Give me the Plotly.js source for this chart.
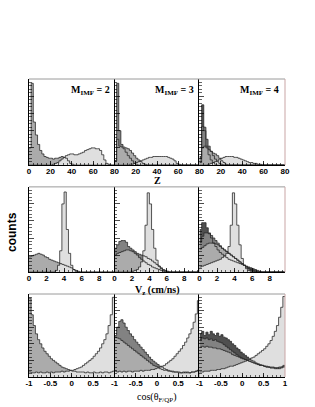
<!DOCTYPE html>
<html><head><meta charset="utf-8">
<script src="https://cdn.plot.ly/plotly-3.0.1.min.js"></script>
<style>html,body{margin:0;padding:0;background:#fff}#chart{width:315px;height:407px}</style>
</head><body><div id="chart"></div>
<script>
// ---------- binning (bin start, width, count) ----------
const zBins = {start: 0, width: 2, n: 40};
const vBins = {start: 0, width: 0.25, n: 39};
const cBins = {start: -1, width: 0.05, n: 40};

// ---------- Row 1 : Z distributions ----------
const zM2_frag = [20,95,50,35,24,17,13,10,9,8, 8,7,8,8,9,10,9,8,5,2, 1,0,0,0,0,0,0,0,0,0, 0,0,0,0,0,0,0,0,0,0];
const zM2_qp   = [0,0,0,0,0,0,0,0,0,0, 0,1,2,3,5,7,9,11,12,13, 13,12,12,13,14,15,17,18,19,20, 20,19,19,17,12,6,2,1,0,0];

const zM3_f1 = [5,95,40,24,19,15,11,8,5,2, 1,0,0,0,0,0,0,0,0,0, 0,0,0,0,0,0,0,0,0,0, 0,0,0,0,0,0,0,0,0,0];
const zM3_f2 = [5,30,22,21,21,20,19,17,14,11, 8,6,4,2,1,0,0,0,0,0, 0,0,0,0,0,0,0,0,0,0, 0,0,0,0,0,0,0,0,0,0];
const zM3_qp = [0,0,0,0,0,0,0,1,1,2, 3,4,5,6,7,8,9,9,10,10, 10,10,10,10,10,9,8,7,5,2, 1,0,0,0,0,0,0,0,0,0];

const zM4_f1 = [10,70,40,22,12,6,3,1,0,0, 0,0,0,0,0,0,0,0,0,0, 0,0,0,0,0,0,0,0,0,0, 0,0,0,0,0,0,0,0,0,0];
const zM4_f2 = [8,45,44,30,22,16,11,7,4,2, 1,0,0,0,0,0,0,0,0,0, 0,0,0,0,0,0,0,0,0,0, 0,0,0,0,0,0,0,0,0,0];
const zM4_f3 = [3,20,22,20,18,16,14,13,11,8, 5,3,1,0,0,0,0,0,0,0, 0,0,0,0,0,0,0,0,0,0, 0,0,0,0,0,0,0,0,0,0];
const zM4_qp = [0,0,0,0,1,2,3,4,5,7, 8,9,10,10,10,10,9,9,8,7, 6,5,4,3,3,2,2,1,1,0, 0,0,0,0,0,0,0,0,0,0];

// ---------- Row 2 : Vz distributions ----------
const vM2_frag = [18,19,20,21,22,21,20,18,17,15, 14,13,12,11,10,9,8,7,6,5, 3,2,1,0,0,0,0,0,0,0, 0,0,0,0,0,0,0,0,0];
const vM2_qp   = [0,0,0,0,0,0,0,0,0,0, 0,0,2,8,25,80,94,50,22,8, 3,1,0,0,0,0,0,0,0,0, 0,0,0,0,0,0,0,0,0];

const vM3_f1 = [28,32,36,37,37,35,30,28,26,24, 22,21,20,19,18,16,15,13,11,9, 7,5,3,2,1,0,0,0,0,0, 0,0,0,0,0,0,0,0,0];
const vM3_f2 = [20,22,23,24,25,26,26,25,24,22, 20,17,15,13,11,9,8,6,5,4, 3,2,1,0,0,0,0,0,0,0, 0,0,0,0,0,0,0,0,0];
const vM3_qp = [0,0,0,0,0,0,0,0,1,2, 3,6,12,25,55,93,80,50,28,14, 7,4,2,1,0,0,0,0,0,0, 0,0,0,0,0,0,0,0,0];

const vM4_f1 = [50,58,58,52,46,40,34,30,26,23, 21,19,17,15,14,13,12,11,10,9, 8,7,6,5,4,3,2,1,0,0, 0,0,0,0,0,0,0,0,0];
const vM4_f2 = [35,42,46,46,45,43,40,37,34,31, 28,26,24,22,20,18,16,14,12,10, 8,6,4,3,2,1,0,0,0,0, 0,0,0,0,0,0,0,0,0];
const vM4_f3 = [27,29,31,33,34,34,34,33,32,30, 28,26,24,22,20,18,16,14,12,10, 8,6,4,2,1,0,0,0,0,0, 0,0,0,0,0,0,0,0,0];
const vM4_qp = [6,7,8,9,10,11,12,13,14,15, 17,19,22,30,55,93,80,55,32,16, 8,4,2,1,0,0,0,0,0,0, 0,0,0,0,0,0,0,0,0];

// ---------- Row 3 : cos(theta_F/QP) distributions ----------
const cM2_frag = [95,75,62,52,45,40,35,31,28,25, 22,20,18,16,14,12,11,10,9,8, 7,7,6,6,6,6,5,6,5,5, 6,5,5,6,5,6,6,5,6,7];
const cM2_qp   = [6,5,5,6,5,6,5,5,6,5, 6,5,6,6,6,7,6,7,7,8, 8,9,10,11,12,14,16,18,20,22, 25,28,31,35,40,45,52,62,75,96];

const cM3_f1 = [50,60,67,69,65,60,56,52,49,45, 42,39,36,33,30,27,24,21,19,17, 15,13,12,10,9,8,7,7,6,6, 6,5,6,5,6,5,6,6,7,8];
const cM3_f2 = [48,47,46,44,42,40,38,36,34,32, 30,28,26,24,22,20,18,16,14,13, 12,10,9,8,8,7,7,6,6,6, 5,5,5,6,5,5,6,6,7,8];
const cM3_qp = [7,6,7,6,7,6,7,7,6,7, 7,7,8,7,8,8,8,9,9,10, 11,12,13,14,16,18,20,22,25,28, 31,34,38,42,47,52,58,66,76,92];

const cM4_f1 = [52,55,50,54,51,55,52,50,53,49, 51,48,47,45,43,40,38,35,33,30, 28,26,24,22,20,19,17,16,15,14, 13,12,12,11,11,10,11,10,11,12];
const cM4_f2 = [45,47,46,47,45,46,44,45,43,42, 41,39,37,35,33,31,29,27,25,23, 22,21,20,19,18,17,16,15,14,14, 13,12,12,11,11,11,10,11,12,13];
const cM4_f3 = [36,37,36,37,36,36,35,35,34,34, 33,32,31,30,29,27,26,25,24,23, 22,21,20,19,18,17,16,15,14,14, 13,13,12,12,12,11,11,12,12,14];
const cM4_qp = [6,6,7,7,7,8,8,8,9,9, 10,10,11,12,13,13,14,15,16,17, 18,19,20,21,23,24,26,28,30,32, 34,37,40,44,49,55,62,72,84,97];

// ---------- tick labels ----------
const zTickVals0 = [0,20,40,60,80];
const zTickVals  = [20,40,60,80];
const vTickVals  = [0,2,4,6,8];
const cTickVals0 = [-1,-0.5,0,0.5];
const cTickText0 = ['-1','-0.5','0','0.5'];
const cTickVals  = [-1,-0.5,0,0.5,1];
const cTickText  = ['-1','-0.5','0','0.5','1'];
const mLabels = ['M<sub>IMF</sub> = 2','M<sub>IMF</sub> = 3','M<sub>IMF</sub> = 4'];

// ---------- styles ----------
const DARK='#4f4f4f', DMED='#828282', MED='#ababab', LIGHT='#dfdfdf', OUT='#2b2b2b';
const colX = [[0,0.334],[0.334,0.666],[0.666,1]];
const rowY = [[0.711,1],[0.352,0.638],[0,0.2785]];

function edges(b){const e=[];for(let i=0;i<=b.n;i++)e.push(+(b.start+i*b.width).toFixed(4));return e;}

const panels = [
  {r:0,c:0,b:zBins,s:[[zM2_frag,MED],[zM2_qp,LIGHT]]},
  {r:0,c:1,b:zBins,s:[[zM3_f1,DMED],[zM3_f2,MED],[zM3_qp,LIGHT]]},
  {r:0,c:2,b:zBins,s:[[zM4_f1,DARK],[zM4_f2,DMED],[zM4_f3,MED],[zM4_qp,LIGHT]]},
  {r:1,c:0,b:vBins,s:[[vM2_frag,MED],[vM2_qp,LIGHT]]},
  {r:1,c:1,b:vBins,s:[[vM3_f1,DMED],[vM3_f2,MED],[vM3_qp,LIGHT]]},
  {r:1,c:2,b:vBins,s:[[vM4_f1,DARK],[vM4_f2,DMED],[vM4_f3,MED],[vM4_qp,LIGHT]]},
  {r:2,c:0,b:cBins,s:[[cM2_frag,MED],[cM2_qp,LIGHT]]},
  {r:2,c:1,b:cBins,s:[[cM3_f1,DMED],[cM3_f2,MED],[cM3_qp,LIGHT]]},
  {r:2,c:2,b:cBins,s:[[cM4_f1,DARK],[cM4_f2,DMED],[cM4_f3,MED],[cM4_qp,LIGHT]]}
];

const traces = [];
const layout = {
  width:315, height:407, margin:{l:29,r:30,t:79,b:30},
  paper_bgcolor:'#fff', plot_bgcolor:'rgba(0,0,0,0)', showlegend:false,
  font:{family:'Liberation Sans', size:8, color:'#000'},
  shapes:[], annotations:[]
};
const tickFont = {family:'Liberation Sans', size:8, color:'#000', weight:'bold'};

panels.forEach((p,i)=>{
  const k = i+1, xs = k===1?'x':'x'+k, ys = k===1?'y':'y'+k;
  const e = edges(p.b);
  p.s.forEach(([vals,col])=>{
    traces.push({type:'scatter', mode:'lines', x:e, y:vals.concat([vals[vals.length-1]]),
      xaxis:xs, yaxis:ys, line:{shape:'hv', width:0, color:col}, fill:'tozeroy', fillcolor:col, hoverinfo:'skip'});
  });
  p.s.forEach(([vals,col])=>{
    traces.push({type:'scatter', mode:'lines', x:e, y:vals.concat([vals[vals.length-1]]),
      xaxis:xs, yaxis:ys, line:{shape:'hv', width:0.8, color:OUT}, hoverinfo:'skip'});
  });
  let range, tv, tt, minorDt;
  if(p.r===0){ range=[0,80]; tv = p.c===0?zTickVals0:zTickVals; tt = tv.map(String); minorDt=4; }
  else if(p.r===1){ range=[0,9.75]; tv=vTickVals; tt=tv.map(String); minorDt=0.5; }
  else { range=[-1,1]; tv = p.c===2?cTickVals:cTickVals0; tt = p.c===2?cTickText:cTickText0; minorDt=0.1; }
  const xname = k===1?'xaxis':'xaxis'+k, yname = k===1?'yaxis':'yaxis'+k;
  layout[xname] = {domain:colX[p.c], anchor:ys, range:range, tickmode:'array', tickvals:tv, ticktext:tt,
    showline:true, linecolor:'#000', linewidth:1, ticks:'inside', ticklen:4, tickwidth:0.8, tickcolor:'#000',
    tickfont:tickFont, ticklabelstandoff:-2, showgrid:false, zeroline:false, fixedrange:true,
    minor:{tickmode:'linear', tick0:range[0], dtick:minorDt, ticks:'inside', ticklen:2, tickwidth:0.6, tickcolor:'#000', showgrid:false}};
  layout[yname] = {domain:rowY[p.r], anchor:xs, range:[0,100], tickmode:'linear', tick0:0, dtick:20,
    showticklabels:false, showline:true, linecolor:'#000', linewidth:1, ticks:'inside', ticklen:5, tickwidth:0.7, tickcolor:'#000',
    showgrid:false, zeroline:false, fixedrange:true,
    minor:{tickmode:'linear', tick0:0, dtick:4, ticks:'inside', ticklen:2.5, tickwidth:0.6, tickcolor:'#000', showgrid:false}};
});

rowY.forEach(d=>{
  layout.shapes.push({type:'line', xref:'paper', yref:'paper', x0:0, x1:1, y0:d[1], y1:d[1], line:{color:'#9a9a9a', width:1}});
  layout.shapes.push({type:'line', xref:'paper', yref:'paper', x0:1, x1:1, y0:d[0], y1:d[1], line:{color:'#c9a5a5', width:1}});
});

const mX = [0.324, 0.652, 0.984];
mLabels.forEach((t,i)=>layout.annotations.push({xref:'paper', yref:'paper', x:mX[i], y:0.96, xanchor:'right', yanchor:'middle',
  text:'<b>'+t+'</b>', showarrow:false, font:{family:'Liberation Serif', size:10, color:'#000'}}));

layout.annotations.push({xref:'paper', yref:'paper', x:0.5, y:0.659, xanchor:'center', yanchor:'middle', showarrow:false,
  text:'<b>Z</b>', font:{family:'Liberation Serif', size:10, color:'#000'}});
layout.annotations.push({xref:'paper', yref:'paper', x:0.5, y:0.29, xanchor:'center', yanchor:'middle', showarrow:false,
  text:'<b>V<sub>z</sub> (cm/ns)</b>', font:{family:'Liberation Serif', size:10, color:'#000'}});
layout.annotations.push({xref:'paper', yref:'paper', x:0.5, y:-0.068, xanchor:'center', yanchor:'middle', showarrow:false,
  text:'cos(θ<sub>F/QP</sub>)', font:{family:'Liberation Serif', size:10, color:'#000'}});
layout.annotations.push({xref:'paper', yref:'paper', x:-0.066, y:0.487, xanchor:'center', yanchor:'middle', showarrow:false,
  textangle:-90, text:'<b>counts</b>', font:{family:'Liberation Sans', size:12, color:'#000'}});

Plotly.newPlot('chart', traces, layout, {staticPlot:true, displayModeBar:false});
</script></body></html>
